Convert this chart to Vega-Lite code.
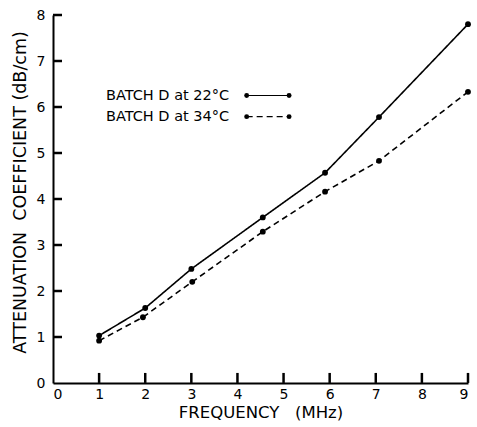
{
  "$schema": "https://vega.github.io/schema/vega-lite/v6.json",
  "width": 415,
  "height": 368,
  "autosize": {"type": "none"},
  "padding": {"left": 53, "top": 15, "right": 9, "bottom": 44},
  "background": "white",
  "config": {
    "view": {"stroke": null},
    "font": "DejaVu Sans",
    "axis": {
      "domainColor": "black",
      "domainWidth": 2,
      "grid": false,
      "labelColor": "black",
      "titleColor": "black",
      "labelFont": "DejaVu Sans",
      "titleFont": "DejaVu Sans",
      "labelFontSize": 14,
      "titleFontSize": 16.5,
      "titleFontWeight": "normal"
    }
  },
  "datasets": {
    "series": [
      {"freq": 1, "att": 1.03, "batch": "22"},
      {"freq": 2, "att": 1.63, "batch": "22"},
      {"freq": 3, "att": 2.48, "batch": "22"},
      {"freq": 4.55, "att": 3.6, "batch": "22"},
      {"freq": 5.9, "att": 4.57, "batch": "22"},
      {"freq": 7.07, "att": 5.78, "batch": "22"},
      {"freq": 9, "att": 7.8, "batch": "22"},
      {"freq": 1, "att": 0.92, "batch": "34"},
      {"freq": 1.95, "att": 1.43, "batch": "34"},
      {"freq": 3.02, "att": 2.2, "batch": "34"},
      {"freq": 4.55, "att": 3.29, "batch": "34"},
      {"freq": 5.9, "att": 4.16, "batch": "34"},
      {"freq": 7.07, "att": 4.83, "batch": "34"},
      {"freq": 9, "att": 6.33, "batch": "34"}
    ],
    "legendText": [
      {"freq": 3.82, "att": 6.25, "label": "BATCH D at 22°C"},
      {"freq": 3.82, "att": 5.79, "label": "BATCH D at 34°C"}
    ],
    "legendLines": [
      {"freq": 4.2, "att": 6.25, "batch": "22"},
      {"freq": 5.12, "att": 6.25, "batch": "22"},
      {"freq": 4.2, "att": 5.79, "batch": "34"},
      {"freq": 5.12, "att": 5.79, "batch": "34"}
    ],
    "xticks": [{"v": 1}, {"v": 2}, {"v": 3}, {"v": 4}, {"v": 5}, {"v": 6}, {"v": 7}, {"v": 8}, {"v": 9}],
    "yticks": [{"v": 1}, {"v": 2}, {"v": 3}, {"v": 4}, {"v": 5}, {"v": 6}, {"v": 7}, {"v": 8}]
  },
  "layer": [
    {
      "data": {"name": "series"},
      "mark": {"type": "line", "color": "black", "strokeWidth": 1.6},
      "encoding": {
        "x": {
          "field": "freq", "type": "quantitative",
          "scale": {"domain": [0, 9], "nice": false},
          "axis": {"values": [0,1,2,3,4,5,6,7,8,9], "title": "FREQUENCY\u00a0\u00a0\u00a0(MHz)", "ticks": false, "tickSize": 0, "labelPadding": 4, "titlePadding": 3}
        },
        "y": {
          "field": "att", "type": "quantitative",
          "scale": {"domain": [0, 8], "nice": false},
          "axis": {"values": [0,1,2,3,4,5,6,7,8], "title": "ATTENUATION\u00a0\u00a0COEFFICIENT (dB/cm)", "ticks": false, "tickSize": 0, "labelPadding": 8, "titlePadding": 7, "titleFontSize": 17.5, "titleAnchor": "middle", "titleY": 177}
        },
        "detail": {"field": "batch"},
        "strokeDash": {
          "field": "batch", "type": "nominal",
          "scale": {"domain": ["22", "34"], "range": [[1, 0], [6, 4]]},
          "legend": null
        }
      }
    },
    {
      "data": {"name": "series"},
      "mark": {"type": "point", "filled": true, "color": "black", "size": 34, "opacity": 1},
      "encoding": {
        "x": {"field": "freq", "type": "quantitative"},
        "y": {"field": "att", "type": "quantitative"}
      }
    },
    {
      "data": {"name": "xticks"},
      "mark": {"type": "tick", "orient": "vertical", "color": "black", "size": 10, "thickness": 2.5, "opacity": 1},
      "encoding": {
        "x": {"field": "v", "type": "quantitative"},
        "y": {"datum": 0.11}
      }
    },
    {
      "data": {"name": "yticks"},
      "mark": {"type": "tick", "orient": "horizontal", "color": "black", "size": 9, "thickness": 2.5, "opacity": 1},
      "encoding": {
        "y": {"field": "v", "type": "quantitative"},
        "x": {"datum": 0.098}
      }
    },
    {
      "data": {"name": "legendLines"},
      "mark": {"type": "line", "color": "black", "strokeWidth": 1.2},
      "encoding": {
        "x": {"field": "freq", "type": "quantitative"},
        "y": {"field": "att", "type": "quantitative"},
        "detail": {"field": "batch"},
        "strokeDash": {"field": "batch", "type": "nominal", "legend": null}
      }
    },
    {
      "data": {"name": "legendLines"},
      "mark": {"type": "point", "filled": true, "color": "black", "size": 24, "opacity": 1},
      "encoding": {
        "x": {"field": "freq", "type": "quantitative"},
        "y": {"field": "att", "type": "quantitative"}
      }
    },
    {
      "data": {"name": "legendText"},
      "mark": {"type": "text", "align": "right", "baseline": "middle", "fontSize": 14.5, "font": "DejaVu Sans", "color": "black"},
      "encoding": {
        "x": {"field": "freq", "type": "quantitative"},
        "y": {"field": "att", "type": "quantitative"},
        "text": {"field": "label"}
      }
    }
  ]
}
